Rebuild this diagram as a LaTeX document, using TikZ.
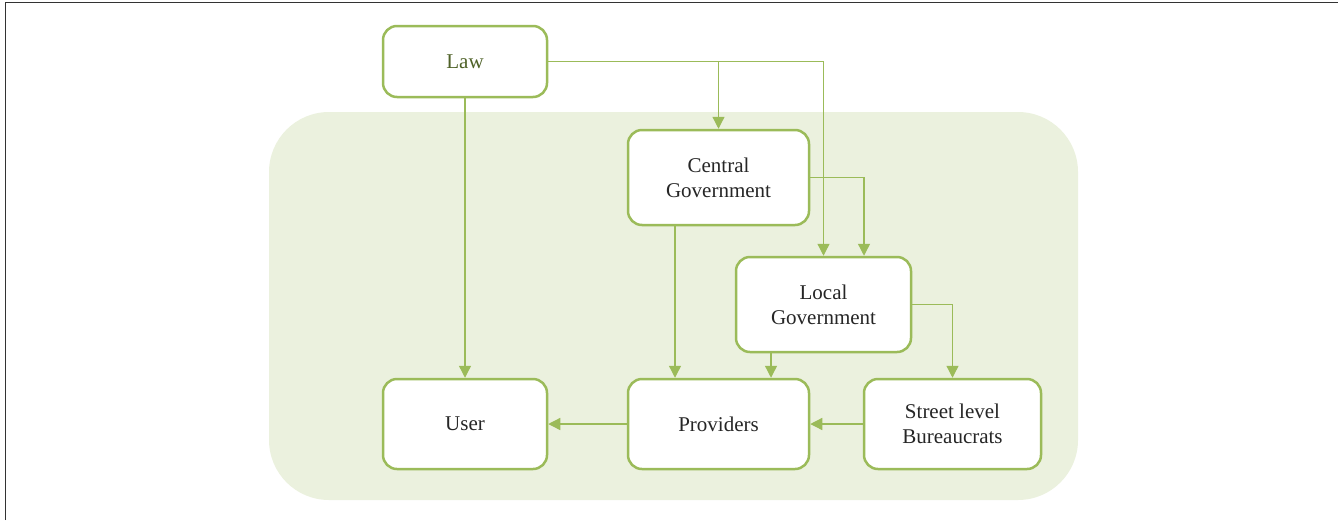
\documentclass[tikz,border=0pt]{standalone}
\usepackage{fontspec}
\setmainfont{Liberation Serif}
\usetikzlibrary{arrows.meta}
\definecolor{boxgreen}{HTML}{9BBB59}
\definecolor{bggreen}{HTML}{EBF1DE}
\definecolor{lawtext}{HTML}{4F6228}
\definecolor{txt}{HTML}{262626}
\definecolor{frame}{HTML}{333333}
\tikzset{
  box/.style={draw=boxgreen, line width=2.5pt, fill=white, rounded corners=14pt,
    inner sep=0pt, align=center, text=txt, font=\fontsize{21}{25}\selectfont},
  arr/.style={draw=boxgreen, line width=1.3pt, -{Triangle[length=12pt,width=12pt]}},
  plain/.style={draw=boxgreen, line width=1.3pt}
}
\begin{document}
\begin{tikzpicture}[x=1pt,y=-1pt]
\useasboundingbox (0,0) rectangle (1338,520);
\draw[frame, line width=1.5pt] (5.5,520) -- (5.5,2.5) -- (1338,2.5);
\fill[bggreen, rounded corners=60pt] (269,112) rectangle (1078,500);
\node[box, minimum width=164pt, minimum height=71pt, text=lawtext] (law) at (465,61.5) {Law};
\node[box, minimum width=181pt, minimum height=95pt] (central) at (718.5,177.5) {Central\\Government};
\node[box, minimum width=175pt, minimum height=95pt] (local) at (823.5,304.5) {Local\\Government};
\node[box, minimum width=164pt, minimum height=90pt] (user) at (465,424) {User};
\node[box, minimum width=181pt, minimum height=90pt] (providers) at (718.5,424) {Providers};
\node[box, minimum width=177pt, minimum height=90pt] (street) at (952.5,424) {Street level\\Bureaucrats};
\draw[arr] (law.east) -| (local.north);
\draw[arr] (law.east -| central.north) -- (central.north);
\draw[arr] (law.south) -- (user.north);
\draw[arr] (central.east) -| ([xshift=40.5pt]local.north);
\draw[arr] ([xshift=-43.5pt]central.south) -- ([xshift=-43.5pt]providers.north);
\draw[arr] ([xshift=-52.5pt]local.south) -- ([xshift=52.5pt]providers.north);
\draw[arr] (local.east) -| (street.north);
\draw[arr] (street.west) -- (providers.east);
\draw[arr] (providers.west) -- (user.east);
\end{tikzpicture}
\end{document}
